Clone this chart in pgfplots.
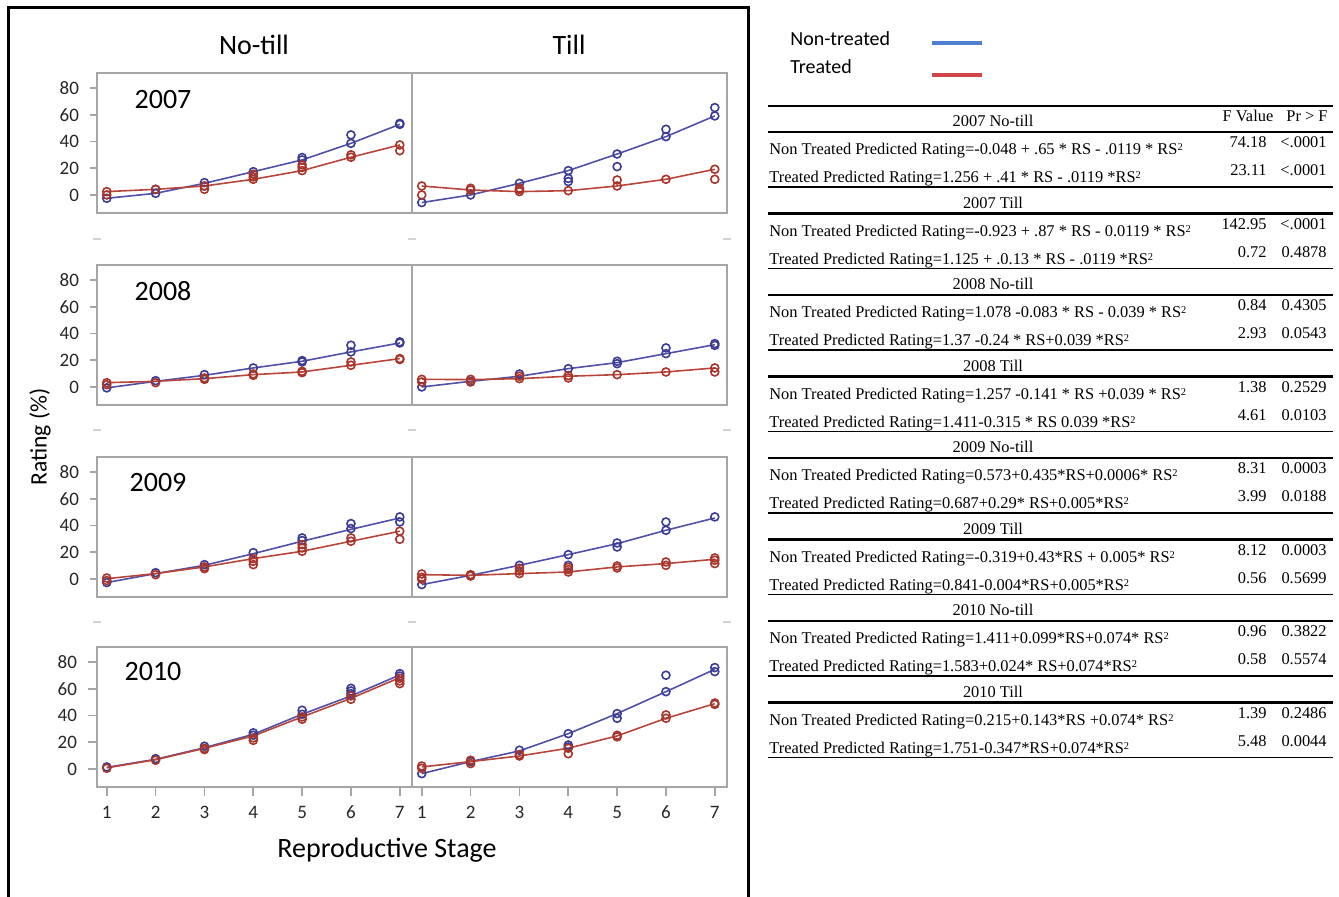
\documentclass[border=0pt]{standalone}
\usepackage{pgfplots}
\pgfplotsset{compat=1.18}
\usepackage{fontspec}
\setmainfont{Carlito}
\newfontfamily\tnr{Liberation Serif}
\definecolor{fitblue}{HTML}{5050A8}
\definecolor{obsblue}{HTML}{3C3C94}
\definecolor{fitred}{HTML}{B8453A}
\definecolor{obsred}{HTML}{A8342A}
\definecolor{frameg}{HTML}{A6A6A6}
\definecolor{legblue}{HTML}{4F7FD0}
\definecolor{legred}{HTML}{D04545}
\newcommand{\sq}{\raisebox{0.55ex}{\fontsize{5.2}{5.2}\selectfont 2}}
\pgfplotsset{
 panel/.style={scale only axis, width=157.5pt, height=70pt, xmin=0.8, xmax=7.25, ymin=-13.5, ymax=91.2,
   axis line style={frameg, line width=1pt}, xtick=\empty, ytick=\empty,
   tick style={frameg, line width=0.8pt}, tick align=outside, major tick length=3.5pt,
   ytick pos=left, xtick pos=bottom,
   ticklabel style={font=\fontsize{9.5}{10}\selectfont, text=black!85},
   yticklabel style={xshift=-2pt}, xticklabel style={yshift=-1.5pt},
   /pgf/number format/assume math mode=true, clip=false, anchor=south west},
 leftcol/.style={ytick={0,20,40,60,80}},
 bottomrow/.style={xtick={1,...,7}, major tick length=4.5pt},
 fitN/.style={fitblue, line width=0.8pt, no marks},
 fitT/.style={fitred, line width=0.8pt, no marks},
 obsN/.style={only marks, mark=o, mark size=2pt, mark options={obsblue, line width=0.8pt}},
 obsT/.style={only marks, mark=o, mark size=2pt, mark options={obsred, line width=0.8pt}},
}
\begin{document}
\begin{tikzpicture}
\begin{scope}[x=0.5pt,y=-0.5pt]
\useasboundingbox (0,0) rectangle (1339,897);
\draw[line width=1.5pt] (8,897) -- (8,8) -- (748,8) -- (748,897);
\node[anchor=base, font=\fontsize{14}{16}\selectfont] at (254,55) {No-till};
\node[anchor=base, font=\fontsize{14}{16}\selectfont] at (569,55) {Till};
\node[anchor=base, font=\fontsize{14}{16}\selectfont] at (387,857) {Reproductive Stage};
\node[rotate=90, font=\fontsize{11.8}{13}\selectfont] at (40,437) {Rating (\%)};
\node[font=\fontsize{14}{16}\selectfont] at (163,100) {2007};
\node[font=\fontsize{14}{16}\selectfont] at (163,291) {2008};
\node[font=\fontsize{14}{16}\selectfont] at (158,483) {2009};
\node[font=\fontsize{14}{16}\selectfont] at (153,672) {2010};
\foreach \yy in {239,430,622}{
  \draw[gray!35, line width=0.8pt] (93,\yy) -- (101,\yy) (408,\yy) -- (416,\yy) (723,\yy) -- (731,\yy);
}
% legend
\node[anchor=base west, inner sep=0pt, font=\fontsize{10}{12}\selectfont] at (790,46) {Non-treated};
\node[anchor=base west, inner sep=0pt, font=\fontsize{10}{12}\selectfont] at (790,74) {Treated};
\draw[legblue, line width=2pt] (932,43) -- (982,43);
\draw[legred, line width=2pt] (932,75) -- (982,75);
% table
\begin{scope}[font=\tnr\fontsize{8.2}{10}\selectfont]
\draw[line width=1.4pt] (768,106) -- (1333,106);
\node[anchor=base, inner sep=0pt] at (1248,122) {F Value};
\node[anchor=base, inner sep=0pt] at (1307,122) {Pr > F};
\foreach [count=\k from 0] \hd/\nt/\tr/\fa/\pa/\fb/\pb in {
 {2007 No-till}/{Non Treated Predicted Rating=-0.048 + .65 * RS - .0119 * RS\sq}/{Treated Predicted Rating=1.256 + .41 * RS - .0119 *RS\sq}/74.18/<.0001/23.11/<.0001,
 {2007 Till}/{Non Treated Predicted Rating=-0.923 + .87 * RS - 0.0119 * RS\sq}/{Treated Predicted Rating=1.125 + .0.13 * RS - .0119 *RS\sq}/142.95/<.0001/0.72/0.4878,
 {2008 No-till}/{Non Treated Predicted Rating=1.078 -0.083 * RS - 0.039 * RS\sq}/{Treated Predicted Rating=1.37 -0.24 * RS+0.039 *RS\sq}/0.84/0.4305/2.93/0.0543,
 {2008 Till}/{Non Treated Predicted Rating=1.257 -0.141 * RS +0.039 * RS\sq}/{Treated Predicted Rating=1.411-0.315 * RS 0.039 *RS\sq}/1.38/0.2529/4.61/0.0103,
 {2009 No-till}/{Non Treated Predicted Rating=0.573+0.435*RS+0.0006* RS\sq}/{Treated Predicted Rating=0.687+0.29* RS+0.005*RS\sq}/8.31/0.0003/3.99/0.0188,
 {2009 Till}/{Non Treated Predicted Rating=-0.319+0.43*RS + 0.005* RS\sq}/{Treated Predicted Rating=0.841-0.004*RS+0.005*RS\sq}/8.12/0.0003/0.56/0.5699,
 {2010 No-till}/{Non Treated Predicted Rating=1.411+0.099*RS+0.074* RS\sq}/{Treated Predicted Rating=1.583+0.024* RS+0.074*RS\sq}/0.96/0.3822/0.58/0.5574,
 {2010 Till}/{Non Treated Predicted Rating=0.215+0.143*RS +0.074* RS\sq}/{Treated Predicted Rating=1.751-0.347*RS+0.074*RS\sq}/1.39/0.2486/5.48/0.0044}{
  \pgfmathsetmacro{\off}{81.5*\k}
  \node[anchor=base, inner sep=0pt] at (993,127+\off) {\hd};
  \draw[line width=1.4pt] (768,132+\off) -- (1333,132+\off);
  \node[anchor=base west, inner sep=0pt] at (769,155+\off) {\nt};
  \node[anchor=base west, inner sep=0pt] at (769,183+\off) {\tr};
  \node[anchor=base east, inner sep=0pt] at (1267,148+\off) {\fa};
  \node[anchor=base east, inner sep=0pt] at (1327,148+\off) {\pa};
  \node[anchor=base east, inner sep=0pt] at (1267,176+\off) {\fb};
  \node[anchor=base east, inner sep=0pt] at (1327,176+\off) {\pb};
  \draw[line width=0.9pt] (768,187+\off) -- (1333,187+\off);
}
\end{scope}
\end{scope}

% ---- 2007 No-till
\begin{axis}[panel, leftcol, at={(97*0.5pt,-213*0.5pt)}]
\addplot[fitN] coordinates {(1,-2.5)(2,1.2)(3,8.7)(4,17.4)(5,26.2)(6,38.6)(7,52.8)};
\addplot[obsN] coordinates {(1,-2.5)(2,1.2)(2,4.2)(3,9.2)(3,6.7)(4,17.4)(5,26.2)(5,28)(6,44.9)(6,38.6)(7,52.8)(7,53.5)};
\addplot[fitT] coordinates {(1,2.5)(2,4.2)(3,6.7)(4,11.7)(5,18.2)(6,28.2)(7,37.4)};
\addplot[obsT] coordinates {(1,2.5)(1,0)(2,4.2)(3,6.7)(3,4.2)(4,11.7)(4,13.5)(4,15.5)(5,18.2)(5,20.5)(5,22.5)(6,28.2)(6,30)(7,37.4)(7,33.1)};
\end{axis}
% ---- 2007 Till
\begin{axis}[panel, at={(412*0.5pt,-213*0.5pt)}]
\addplot[fitN] coordinates {(1,-5.7)(2,0)(3,8.7)(4,18.2)(5,30.6)(6,43.6)(7,59.1)};
\addplot[obsN] coordinates {(1,-5.7)(2,0)(3,8.7)(4,18.2)(4,12.4)(4,10)(5,30.6)(5,21.2)(6,49.1)(6,43.6)(7,65.3)(7,59.1)};
\addplot[fitT] coordinates {(1,6.7)(2,3.7)(3,2.5)(4,3.2)(5,6.7)(6,11.7)(7,19.2)};
\addplot[obsT] coordinates {(1,6.7)(1,0)(2,3.7)(2,5)(3,2.5)(3,4)(3,5)(4,3.2)(5,11.2)(5,6.7)(6,11.7)(7,19.2)(7,11.7)};
\end{axis}
% ---- 2008 No-till
\begin{axis}[panel, leftcol, at={(97*0.5pt,-405*0.5pt)}]
\addplot[fitN] coordinates {(1,-0.7)(2,4.2)(3,8.7)(4,14.2)(5,19.2)(6,26.2)(7,32.9)};
\addplot[obsN] coordinates {(1,-0.7)(2,4.7)(3,9.2)(4,14.2)(5,19.7)(5,18.7)(6,31.2)(6,26.2)(7,33.7)(7,32.9)};
\addplot[fitT] coordinates {(1,3.2)(2,4.2)(3,6.2)(4,9.2)(5,11.2)(6,16.2)(7,21.2)};
\addplot[obsT] coordinates {(1,3.2)(1,1.7)(2,3.2)(3,6.7)(3,5.7)(4,9.7)(4,8.7)(5,11.7)(5,10.7)(6,18.7)(6,16.2)(7,21.2)(7,20.5)};
\end{axis}
% ---- 2008 Till
\begin{axis}[panel, at={(412*0.5pt,-405*0.5pt)}]
\addplot[fitN] coordinates {(1,0)(2,4.2)(3,8)(4,13.7)(5,18.2)(6,24.9)(7,31.6)};
\addplot[obsN] coordinates {(1,0)(2,4.2)(3,9.7)(4,13.7)(5,19.2)(5,17.4)(6,29.2)(6,24.9)(7,32.4)(7,31.1)};
\addplot[fitT] coordinates {(1,5.7)(2,5.5)(3,6.2)(4,8)(5,9.2)(6,11.2)(7,14.2)};
\addplot[obsT] coordinates {(1,5.7)(1,3.7)(2,5.7)(2,3.7)(3,8)(3,6.2)(4,8.5)(4,6.7)(5,9.2)(6,11.2)(7,14.2)(7,11.2)};
\end{axis}
% ---- 2009 No-till
\begin{axis}[panel, leftcol, at={(97*0.5pt,-597*0.5pt)}]
\addplot[fitN] coordinates {(1,-2.7)(2,4)(3,10.2)(4,18.9)(5,28.2)(6,37.1)(7,45.6)};
\addplot[obsN] coordinates {(1,-2.7)(2,4.7)(3,10.7)(4,19.7)(5,30.7)(5,28.7)(6,41.4)(6,37.7)(7,46.4)(7,42.6)};
\addplot[fitT] coordinates {(1,0.2)(2,4)(3,9)(4,15.2)(5,20.7)(6,28.2)(7,35.7)};
\addplot[obsT] coordinates {(1,0.7)(1,-1.2)(2,3.2)(3,9)(3,7.7)(4,15.2)(4,13.2)(4,10.7)(5,25.7)(5,23.2)(5,20.7)(6,30.7)(6,28.2)(7,35.7)(7,29.7)};
\end{axis}
% ---- 2009 Till
\begin{axis}[panel, at={(412*0.5pt,-597*0.5pt)}]
\addplot[fitN] coordinates {(1,-4.2)(2,2.7)(3,10.2)(4,18.2)(5,26.4)(6,36.4)(7,45.6)};
\addplot[obsN] coordinates {(1,-4.2)(2,2.7)(3,10.2)(4,18.2)(4,10.2)(5,26.9)(5,23.9)(6,42.6)(6,36.4)(7,46.4)};
\addplot[fitT] coordinates {(1,3.2)(2,2.7)(3,4)(4,5.2)(5,9)(6,11.5)(7,14.7)};
\addplot[obsT] coordinates {(1,3.7)(1,1.2)(1,-0.2)(2,3.2)(2,2.2)(3,8)(3,6)(3,4)(4,8.7)(4,7)(4,5.2)(5,9.7)(5,8.2)(6,12.7)(6,10.2)(7,15.7)(7,14)(7,11.5)};
\end{axis}
% ---- 2010 No-till
\begin{axis}[panel, leftcol, bottomrow, at={(97*0.5pt,-787*0.5pt)}]
\addplot[fitN] coordinates {(1,1.2)(2,7.2)(3,15.9)(4,25.9)(5,40.9)(6,54.6)(7,70.3)};
\addplot[obsN] coordinates {(1,1.5)(2,7.7)(3,17)(4,27)(4,25.2)(5,43.9)(5,40.9)(6,60.3)(6,58.3)(6,56.3)(7,71.3)(7,69.5)};
\addplot[fitT] coordinates {(1,0.8)(2,6.9)(3,15.4)(4,24.7)(5,38.9)(6,52.8)(7,68.3)};
\addplot[obsT] coordinates {(1,0.5)(2,6.5)(3,15.4)(3,14.5)(4,23.2)(4,21.4)(5,38.9)(5,37.2)(6,54.6)(6,52.1)(7,67.8)(7,65.8)(7,63.8)};
\end{axis}
% ---- 2010 Till
\begin{axis}[panel, bottomrow, at={(412*0.5pt,-787*0.5pt)}]
\addplot[fitN] coordinates {(1,-3.5)(2,5.5)(3,13.5)(4,26.4)(5,41.4)(6,57.8)(7,74.5)};
\addplot[obsN] coordinates {(1,-3.5)(2,5.5)(3,14)(4,26.4)(4,17.9)(4,16.4)(5,41.4)(5,37.9)(6,70.1)(6,57.8)(7,75.8)(7,72.8)};
\addplot[fitT] coordinates {(1,1.5)(2,5.5)(3,9.7)(4,15.5)(5,24.7)(6,37.9)(7,48.8)};
\addplot[obsT] coordinates {(1,2.2)(1,0.5)(2,6.5)(2,4)(3,10.7)(3,9.7)(4,15.5)(4,11.4)(5,25.2)(5,24)(6,40.4)(6,37.9)(7,49.3)(7,48.3)};
\end{axis}
\end{tikzpicture}
\end{document}
